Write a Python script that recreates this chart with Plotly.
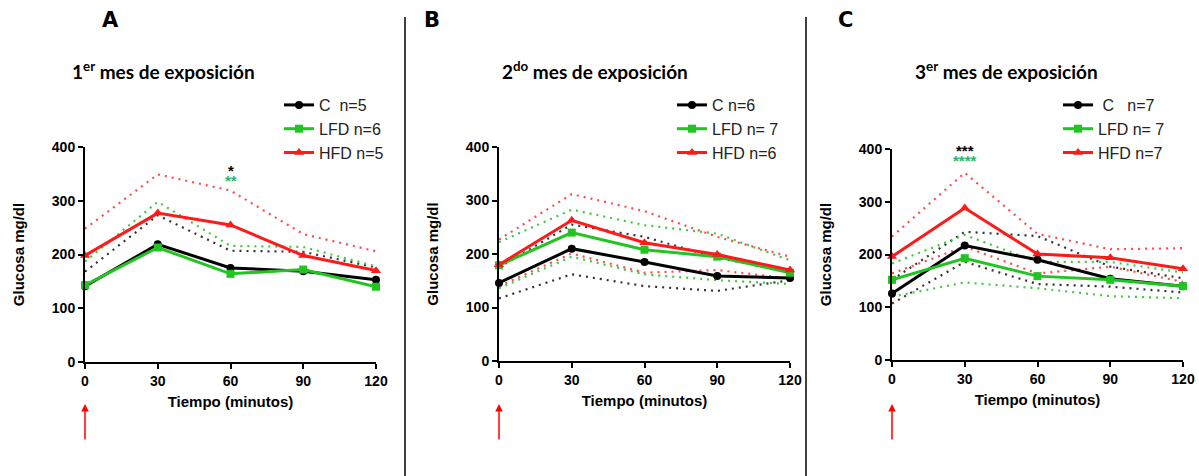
import plotly.graph_objects as go

W, H = 1199, 476
OFF = 0  # body margin removed via post_script
t = [0, 30, 60, 90, 120]

# Panel A (1er mes)
A_C = [141, 219, 175, 169, 153]
A_LFD = [143, 213, 164, 172, 140]
A_HFD = [198, 277, 255, 198, 170]
A_C_up = [168, 273, 207, 205, 176]
A_LFD_up = [187, 298, 216, 214, 178]
A_HFD_up = [248, 349, 319, 238, 206]

# Panel B (2do mes)
B_C = [146, 210, 185, 159, 155]
B_LFD = [179, 240, 208, 195, 165]
B_HFD = [180, 263, 221, 199, 170]
B_C_up = [175, 255, 232, 193, 167]
B_LFD_up = [222, 283, 254, 238, 188]
B_HFD_up = [227, 312, 280, 232, 195]
B_C_lo = [117, 162, 140, 131, 151]
B_LFD_lo = [136, 195, 162, 151, 144]
B_HFD_lo = [140, 201, 165, 170, 154]

# Panel C (3er mes)
C_C = [126, 217, 190, 154, 140]
C_LFD = [152, 193, 159, 152, 140]
C_HFD = [196, 288, 201, 194, 173]
C_C_up = [152, 243, 235, 177, 155]
C_LFD_up = [183, 237, 186, 186, 166]
C_HFD_up = [234, 355, 239, 210, 212]
C_C_lo = [107, 186, 144, 139, 128]
C_LFD_lo = [120, 147, 136, 121, 117]
C_HFD_lo = [164, 215, 164, 177, 148]

titles = ["1<sup>er</sup> mes de exposición", "2<sup>do</sup> mes de exposición", "3<sup>er</sup> mes de exposición"]
letters = ["A", "B", "C"]
legend_names = [
    ["C\u00a0\u00a0n=5", "LFD n=6", "HFD n=5"],
    ["C n=6", "LFD n= 7", "HFD n=6"],
    ["\u00a0C\u00a0\u00a0\u00a0n=7", "LFD n= 7", "HFD n=7"],
]

BLACK = "#000000"
GREEN = "#22c422"
RED = "#ff1a1a"
DOT_BLACK = "#333333"
DOT_GREEN = "#3ccc3c"
DOT_RED = "#ff4a4a"
STAR_GREEN = "#2db36a"

FW, FH = W - OFF, H - OFF


def px(x):
    return (x - OFF) / FW


def py(y):
    return (FH - (y - OFF)) / FH


# pixel geometry of each panel (page px): (x_left, x_right, y_zero_px, y_400_px)
panels = [(85, 376, 362, 147), (499, 790, 361, 147), (892, 1183, 360, 149)]

fig = go.Figure()

data = [
    (A_C, A_LFD, A_HFD, [A_C_up, A_LFD_up, A_HFD_up], []),
    (B_C, B_LFD, B_HFD, [B_C_up, B_LFD_up, B_HFD_up], [B_C_lo, B_LFD_lo, B_HFD_lo]),
    (C_C, C_LFD, C_HFD, [C_C_up, C_LFD_up, C_HFD_up], [C_C_lo, C_LFD_lo, C_HFD_lo]),
]

legend_pos = [(279, 88), (672, 88), (1058, 88)]

for i, (c, l, h, ups, los) in enumerate(data):
    sfx = "" if i == 0 else str(i + 1)
    xa, ya = "x" + sfx, "y" + sfx
    leg = "legend" if i == 0 else "legend" + str(i + 1)
    dot_cols = [DOT_BLACK, DOT_GREEN, DOT_RED]
    for band in (ups, los):
        for k, series in enumerate(band):
            fig.add_trace(go.Scatter(x=t, y=series, mode="lines", xaxis=xa, yaxis=ya,
                                     line=dict(color=dot_cols[k], width=2.2, dash="2px,5px"),
                                     showlegend=False, hoverinfo="skip", cliponaxis=False))
    names = legend_names[i]
    fig.add_trace(go.Scatter(x=t, y=c, mode="lines+markers", name=names[0], xaxis=xa, yaxis=ya,
                             line=dict(color=BLACK, width=3), marker=dict(symbol="circle", size=8, color=BLACK),
                             legend=leg, cliponaxis=False))
    fig.add_trace(go.Scatter(x=t, y=l, mode="lines+markers", name=names[1], xaxis=xa, yaxis=ya,
                             line=dict(color=GREEN, width=3), marker=dict(symbol="square", size=8, color=GREEN),
                             legend=leg, cliponaxis=False))
    fig.add_trace(go.Scatter(x=t, y=h, mode="lines+markers", name=names[2], xaxis=xa, yaxis=ya,
                             line=dict(color=RED, width=3), marker=dict(symbol="triangle-up", size=9, color=RED),
                             legend=leg, cliponaxis=False))

layout = dict(
    width=FW, height=FH,
    margin=dict(l=0, r=0, t=0, b=0, pad=0, autoexpand=False),
    paper_bgcolor="white", plot_bgcolor="white",
    font=dict(family="Liberation Sans, Arial, sans-serif", color="black"),
    annotations=[], shapes=[],
)

for i, (xl, xr, y0, y4) in enumerate(panels):
    sfx = "" if i == 0 else str(i + 1)
    dom_x = [px(xl), px(xr)]
    dom_y = [py(y0), py(y4)]
    layout["xaxis" + sfx] = dict(
        domain=dom_x, range=[0, 120], tickvals=t, ticktext=[str(v) for v in t],
        showline=True, linecolor="black", linewidth=2, ticks="outside", ticklen=5, tickwidth=2,
        tickcolor="black", showgrid=False, zeroline=False, automargin=False,
        tickfont=dict(size=14, family="Liberation Sans, Arial", weight="bold"),
        title=dict(text="<b>Tiempo (minutos)</b>", font=dict(size=15), standoff=9),
        anchor="y" + sfx, fixedrange=True,
    )
    layout["yaxis" + sfx] = dict(
        domain=dom_y, range=[0, 400], tickvals=[0, 100, 200, 300, 400],
        showline=True, linecolor="black", linewidth=2, ticks="outside", ticklen=5, tickwidth=2,
        tickcolor="black", showgrid=False, zeroline=False, automargin=False,
        tickfont=dict(size=14, family="Liberation Sans, Arial", weight="bold"),
        title=dict(text="<b>Glucosa mg/dl</b>", font=dict(size=15), standoff=24),
        anchor="x" + sfx, fixedrange=True,
    )
    leg = "legend" if i == 0 else "legend" + str(i + 1)
    lx, ly = legend_pos[i]
    layout[leg] = dict(x=px(lx), y=py(ly), xanchor="left", yanchor="top",
                       font=dict(size=16, family="Liberation Sans, Arial", color="#222"),
                       bgcolor="rgba(0,0,0,0)", itemwidth=30, tracegroupgap=0)
    # titles
    cx = [163, 595, 1007][i]
    layout["annotations"].append(dict(
        text="<b>" + titles[i] + "</b>", xref="paper", yref="paper",
        x=px(cx), y=py(70), xanchor="center", yanchor="middle", showarrow=False,
        font=dict(size=19, family="Lato, sans-serif", color="black")))
    # panel letters
    lxpos = [110, 432, 845][i]
    layout["annotations"].append(dict(
        text="<b>" + letters[i] + "</b>", xref="paper", yref="paper", x=px(lxpos), y=py(20),
        xanchor="center", yanchor="middle", showarrow=False,
        font=dict(size=21, family="DejaVu Sans, sans-serif", color="black")))
    # red arrow under x=0
    layout["annotations"].append(dict(
        text="", xref="x" + sfx, yref="paper", x=0, y=py(404), ax=0, ay=37,
        axref="pixel", ayref="pixel", showarrow=True, arrowhead=2, arrowsize=1, arrowwidth=1.5,
        arrowcolor="red"))

# significance stars
stars = [
    ("x", "y", 60, 356, "*", BLACK), ("x", "y", 60, 338, "**", STAR_GREEN),
    ("x3", "y3", 30, 398, "***", BLACK), ("x3", "y3", 30, 378, "****", STAR_GREEN),
]
for xr_, yr_, xv, yv, txt, col in stars:
    layout["annotations"].append(dict(text="<b>" + txt + "</b>", xref=xr_, yref=yr_, x=xv, y=yv,
                                      showarrow=False, font=dict(size=15, color=col), xanchor="center",
                                      yanchor="middle"))

# separators
for sx in (405, 806):
    layout["shapes"].append(dict(type="line", xref="paper", yref="paper", x0=px(sx), x1=px(sx),
                                 y0=0, y1=py(17), line=dict(color="black", width=1.5)))

fig.update_layout(**layout)
fig.write_html("out.html", config={"displayModeBar": False},
               post_script="document.body.style.margin='0';document.body.style.overflow='hidden';")
